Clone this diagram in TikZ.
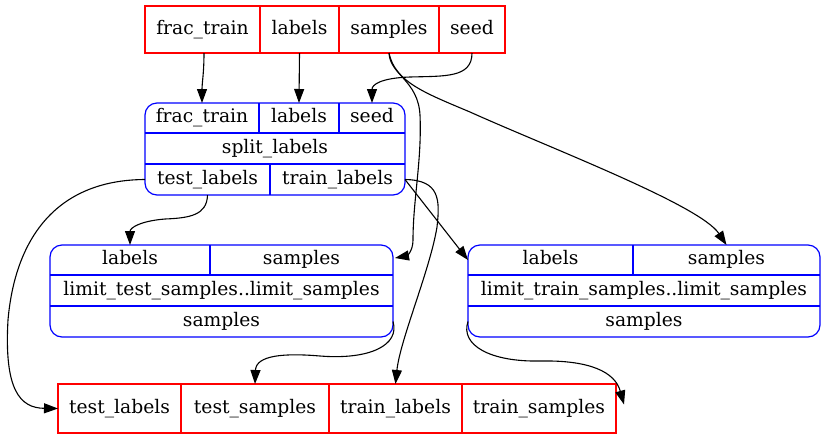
\documentclass[tikz,border=0pt]{standalone}
\usepackage{fontspec}
\setmainfont{DejaVu Serif}
\usetikzlibrary{arrows.meta,calc}
\begin{document}
\begin{tikzpicture}[x=1pt,y=-1pt,
  font=\fontsize{18.7}{22}\selectfont,
  cellr/.style={draw=red, line width=1.2pt, inner sep=0pt, outer sep=0pt, minimum height=47pt, text height=13.5pt, text depth=4.5pt},
  cell/.style={inner sep=0pt, outer sep=0pt, text height=13.5pt, text depth=4.5pt, minimum height=30pt},
  rec/.style={draw=blue, line width=1.2pt, rounded corners=12pt, inner sep=0pt, outer sep=0pt},
  div/.style={draw=blue, line width=1.2pt},
  edge/.style={draw=black, line width=1.1pt, -{Triangle[length=14pt,width=10pt]}}]
\useasboundingbox (0,0) rectangle (825,440);

% top record
\node[cellr, minimum width=115pt] (tfrac) at (202.5,29.5) {frac\_train};
\node[cellr, minimum width=79pt] (tlab) at (299.5,29.5) {labels};
\node[cellr, minimum width=100pt] (tsamp) at (389,29.5) {samples};
\node[cellr, minimum width=66pt] (tseed) at (472,29.5) {seed};

% split_labels
\node[rec, minimum width=260pt, minimum height=92pt] (split) at (275,149) {};
\draw[div] ($(split.north west)+(0,30)$) -- ($(split.north east)+(0,30)$);
\draw[div] ($(split.north west)+(0,61)$) -- ($(split.north east)+(0,61)$);
\draw[div] (259,103) -- (259,133);
\draw[div] (339,103) -- (339,133);
\draw[div] (270,164) -- (270,195);
\node[cell, minimum width=114pt] (sfrac) at (202,118) {frac\_train};
\node[cell, minimum width=80pt] (slab) at (299,118) {labels};
\node[cell, minimum width=66pt] (sseed) at (372,118) {seed};
\node[cell, minimum width=260pt, minimum height=31pt] (sname) at (275,148.5) {split\_labels};
\node[cell, minimum width=125pt, minimum height=31pt] (stest) at (207.5,179.5) {test\_labels};
\node[cell, minimum width=135pt, minimum height=31pt] (strain) at (337.5,179.5) {train\_labels};

% limit_test
\node[rec, minimum width=343pt, minimum height=92pt] (ltest) at (221.5,291) {};
\draw[div] ($(ltest.north west)+(0,30)$) -- ($(ltest.north east)+(0,30)$);
\draw[div] ($(ltest.north west)+(0,61)$) -- ($(ltest.north east)+(0,61)$);
\draw[div] (210,245) -- (210,275);
\node[cell, minimum width=160pt] (ltlab) at (130,260) {labels};
\node[cell, minimum width=183pt] (ltsamp1) at (301.5,260) {samples};
\node[cell, minimum width=343pt, minimum height=31pt] (ltname) at (221.5,290.5) {limit\_test\_samples..limit\_samples};
\node[cell, minimum width=343pt, minimum height=31pt] (ltsamp) at (221.5,321.5) {samples};

% limit_train
\node[rec, minimum width=352pt, minimum height=92pt] (ltrain) at (644,291) {};
\draw[div] ($(ltrain.north west)+(0,30)$) -- ($(ltrain.north east)+(0,30)$);
\draw[div] ($(ltrain.north west)+(0,61)$) -- ($(ltrain.north east)+(0,61)$);
\draw[div] (633,245) -- (633,275);
\node[cell, minimum width=165pt] (lrlab) at (550.5,260) {labels};
\node[cell, minimum width=187pt] (lrsamp1) at (726.5,260) {samples};
\node[cell, minimum width=352pt, minimum height=31pt] (lrname) at (644,290.5) {limit\_train\_samples..limit\_samples};
\node[cell, minimum width=352pt, minimum height=31pt] (lrsamp) at (644,321.5) {samples};

% bottom record
\node[cellr, minimum width=123pt, minimum height=49pt] (btlab) at (119.5,408.5) {test\_labels};
\node[cellr, minimum width=148pt, minimum height=49pt] (btsamp) at (255,408.5) {test\_samples};
\node[cellr, minimum width=133pt, minimum height=49pt] (btrlab) at (395.5,408.5) {train\_labels};
\node[cellr, minimum width=154pt, minimum height=49pt] (btrs) at (539,408.5) {train\_samples};

% edges
\draw[edge] ($(tfrac.south)+(1.5,0)$) .. controls +(0,20) and +(0,-20) .. (sfrac.north);
\draw[edge] (tlab.south) -- (slab.north);
\draw[edge] (tseed.south) .. controls (472,78) and (445,76) .. (410,77) .. controls (380,78) and (372,85) .. (sseed.north);
\draw[edge] (tsamp.south) .. controls (390,75) and (418,80) .. (420,115) .. controls (422,160) and (413,200) .. (413,240) .. controls (413,252) and (406,256) .. ($(ltsamp1.north east)+(2,13)$);
\draw[edge] (tsamp.south) .. controls (395,82) and (425,93) .. (470,112) .. controls (550,148) and (700,205) .. (lrsamp1.north);
\draw[edge] (stest.south) .. controls (207,215) and (190,218) .. (165,219) .. controls (140,221) and (130,228) .. (ltlab.north);
\draw[edge] (stest.west) .. controls (55,180) and (15,240) .. (8,320) .. controls (4,390) and (20,408) .. (btlab.west);
\draw[edge] (strain.east) -- ($(lrlab.north west)+(0,15)$);
\draw[edge] (strain.east) .. controls (440,180) and (440,200) .. (437,227) .. controls (430,270) and (400,340) .. (btrlab.north);
\draw[edge] (ltsamp.east) .. controls (400,345) and (370,360) .. (320,356) .. controls (285,353) and (256,355) .. (btsamp.north);
\draw[edge] (lrsamp.west) .. controls (460,345) and (490,362) .. (540,361) .. controls (590,360) and (615,372) .. ($(btrs.east)+(8,-4)$);
\end{tikzpicture}
\end{document}
